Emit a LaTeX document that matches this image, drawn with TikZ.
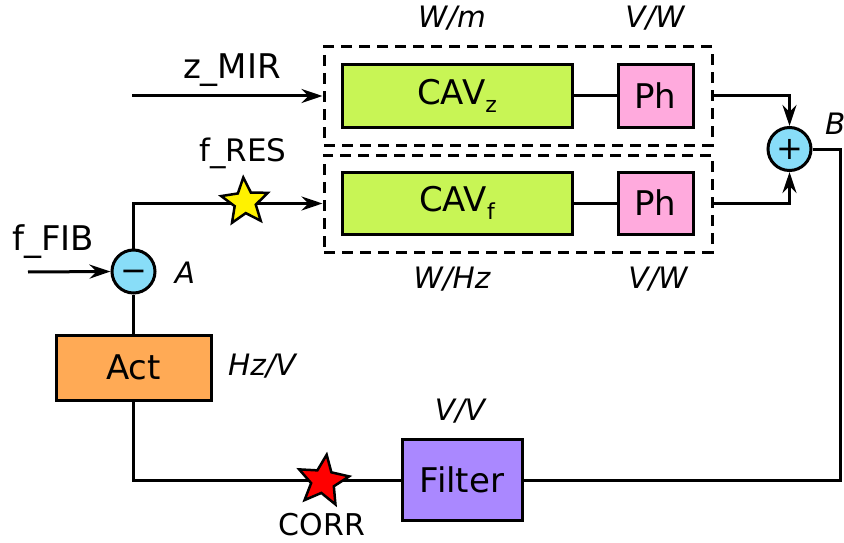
\documentclass[tikz,border=0pt]{standalone}
\usepackage{fontspec}
\setmainfont{DejaVu Sans}
\usetikzlibrary{shapes.geometric,arrows.meta}
\definecolor{cavg}{HTML}{C8F555}
\definecolor{phpink}{HTML}{FFAADD}
\definecolor{sumblue}{HTML}{88DDF8}
\definecolor{actor}{HTML}{FFAA55}
\definecolor{filtp}{HTML}{AA88FF}
\newcommand{\subtxt}[1]{\raisebox{-0.22em}{\fontsize{22}{22}\selectfont #1}}
\tikzset{
  blk/.style={draw=black, line width=3pt, inner sep=0pt, font=\fontsize{34}{34}\selectfont},
  dbox/.style={draw=black, line width=3pt, dash pattern=on 11pt off 7pt, inner sep=0pt},
  sumc/.style={circle, draw=black, line width=3pt, fill=sumblue, minimum size=43pt, inner sep=0pt, text height=20pt, text depth=0pt, font=\fontsize{32}{32}\selectfont},
  lbl/.style={font=\fontsize{34}{34}\selectfont, inner sep=0pt},
  ilbl/.style={font=\fontsize{29.5}{29.5}\selectfont\itshape, inner sep=0pt},
  wire/.style={line width=3pt},
  arr/.style={line width=3pt, -{Stealth[length=21pt,width=14pt,inset=7pt]}},
  starn/.style={star, star points=5, star point ratio=2.2, inner sep=0pt, draw=black, line width=2.5pt},
}
\begin{document}
\begin{tikzpicture}[x=1pt,y=-1pt]
\useasboundingbox (0,0) rectangle (844,543);
% dashed groups
\node[dbox, minimum width=388pt, minimum height=98pt] (boxz) at (518,96) {};
\node[dbox, minimum width=388pt, minimum height=97pt] (boxf) at (518,203.5) {};
% blocks
\node[blk, fill=cavg, minimum width=230pt, minimum height=62pt] (cavz) at (457,96) {CAV\subtxt{z}};
\node[blk, fill=phpink, minimum width=75pt, minimum height=62pt] (phz) at (655.5,96) {Ph};
\node[blk, fill=cavg, minimum width=230pt, minimum height=62pt] (cavf) at (457,203) {CAV\subtxt{f}};
\node[blk, fill=phpink, minimum width=75pt, minimum height=62pt] (phf) at (655.5,203) {Ph};
\node[blk, fill=actor, minimum width=155pt, minimum height=65pt] (act) at (133.5,367.5) {Act};
\node[blk, fill=filtp, minimum width=120pt, minimum height=81pt] (filter) at (462,480) {Filter};
% summing junctions
\node[sumc] (A) at (133.5,271.5) {−};
\node[sumc] (plus) at (789.5,149) {+};
% free ends
\coordinate (zin) at (132,96);
\coordinate (fin) at (28,272);
\coordinate (corner) at (840,149);
% connectors
\draw[wire] (cavz) -- (phz);
\draw[wire] (cavf) -- (phf);
\draw[arr] (zin) -- (boxz.west);
\draw[arr] (fin) -- (A.west);
\draw[arr] (A.north) |- (boxf.west);
\draw[arr] (boxz.east) -| (plus.north);
\draw[arr] (boxf.east) -| (plus.south);
\draw[wire] (plus.east) -- (corner) |- (filter.east);
\draw[wire] (A.south) -- (act.north);
\draw[wire] (act.south) |- (filter.west);
% stars
\node[starn, fill=yellow, minimum size=49pt, rotate=4] (sres) at (245,202) {};
\node[starn, fill=red, minimum size=53pt, rotate=-8] (scorr) at (323,481) {};
% labels
\node[lbl] (lz) at (232,70) {z\_MIR};
\node[lbl, font=\fontsize{31}{31}\selectfont] (lres) at (243,153) {f\_RES};
\node[lbl] (lfib) at (53,242) {f\_FIB};
\node[ilbl] (lA) at (185,273) {A};
\node[ilbl, anchor=west] (lB) at (825,124) {B};
\node[ilbl] (lact) at (262,366) {Hz/V};
\node[ilbl] (lfil) at (460,411) {V/V};
\node[lbl, font=\fontsize{30}{30}\selectfont] (lcorr) at (322,525) {CORR};
\node[ilbl] (l1) at (452,18) {W/m};
\node[ilbl] (l2) at (655,18) {V/W};
\node[ilbl] (l3) at (452,279) {W/Hz};
\node[ilbl] (l4) at (658,279) {V/W};
\end{tikzpicture}
\end{document}
